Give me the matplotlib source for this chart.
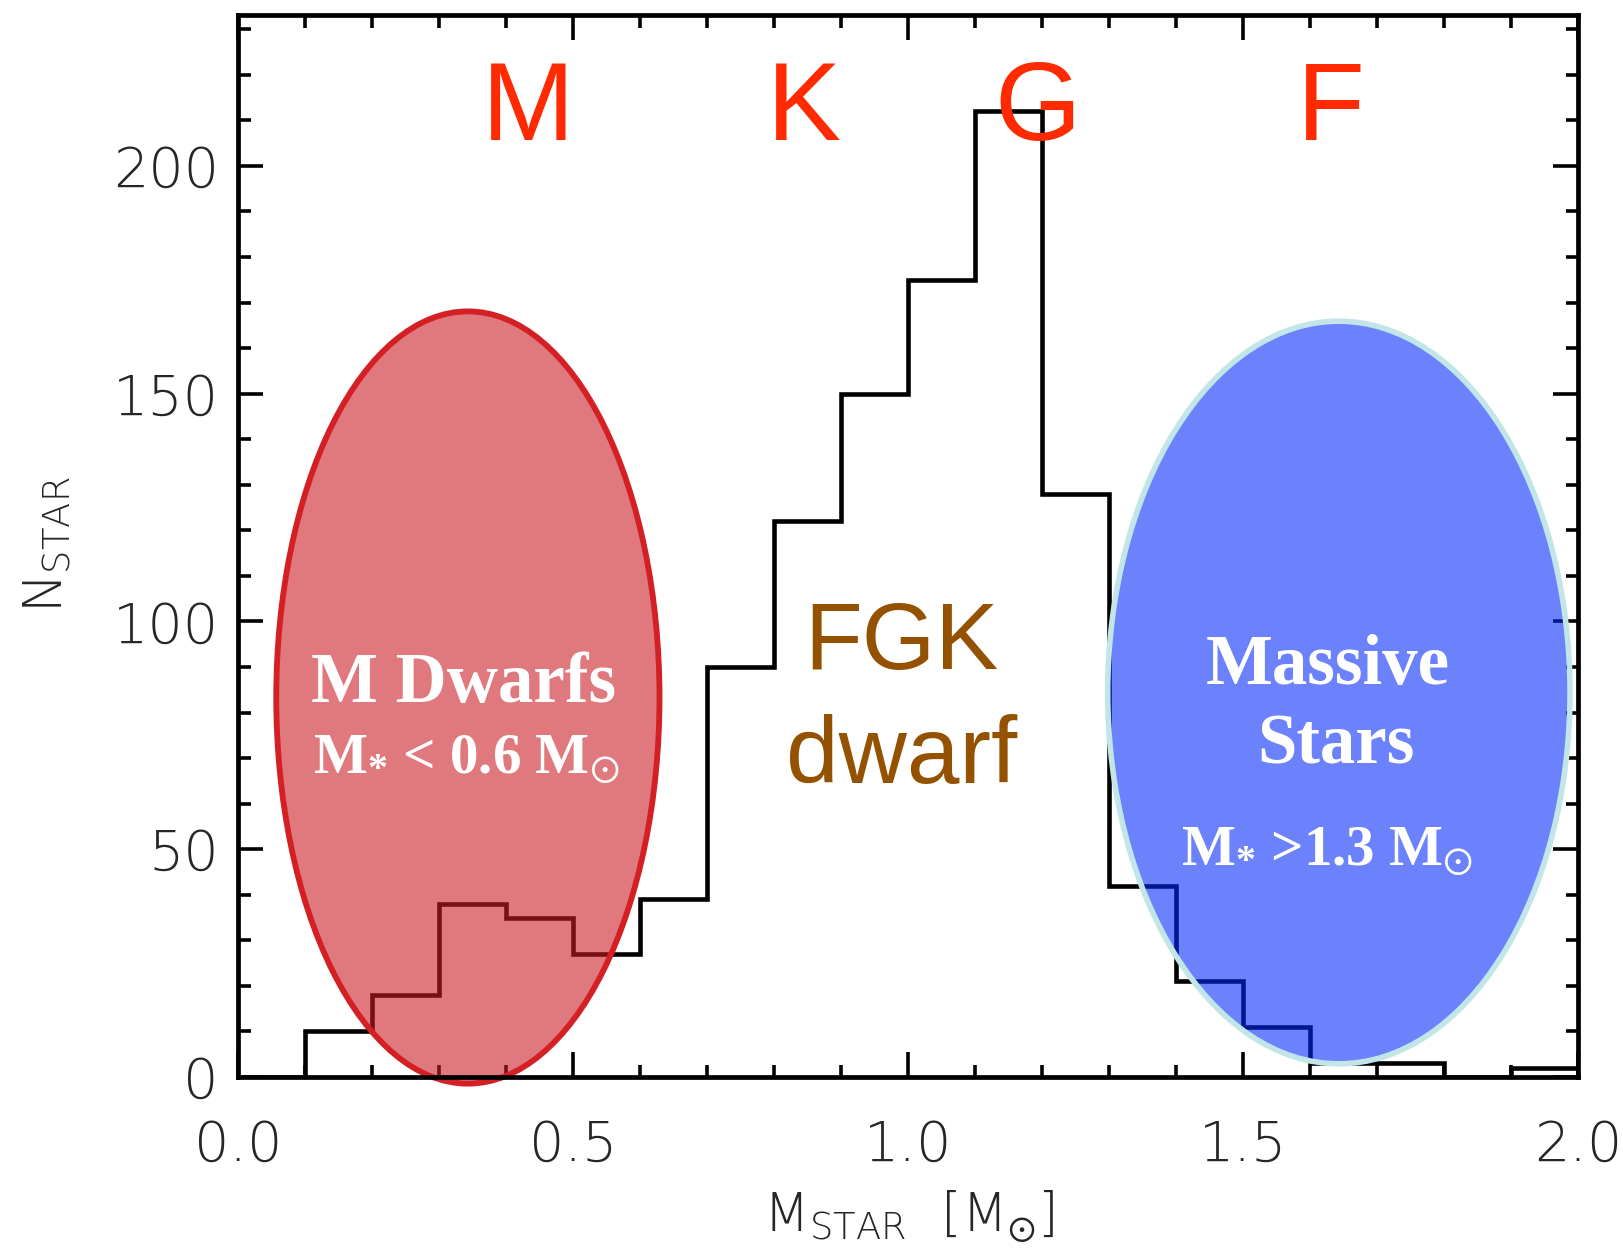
import numpy as np
import matplotlib
matplotlib.use("Agg")
import matplotlib.pyplot as plt
from matplotlib.patches import Ellipse
from matplotlib.ticker import MultipleLocator

plt.rcParams["mathtext.fontset"] = "stix"
plt.rcParams["mathtext.default"] = "regular"

# histogram of stellar masses (bin edges in solar masses, counts per bin)
bin_edges = [0.0, 0.1, 0.2, 0.3, 0.4, 0.5, 0.6, 0.7, 0.8, 0.9, 1.0,
             1.1, 1.2, 1.3, 1.4, 1.5, 1.6, 1.7, 1.8, 1.9, 2.0]
counts = [0, 10, 18, 38, 35, 27, 39, 90, 122, 150, 175,
          212, 128, 42, 21, 11, 3, 3, 0, 2]

# spectral type labels along the top
spec_types = ["M", "K", "G", "F"]
spec_x = [0.433, 0.845, 1.194, 1.631]

# highlighted regions: (center mass, center count, width, height)
mdwarf_region = (0.343, 83.3, 0.572, 169.5)
massive_region = (1.643, 84.4, 0.690, 163.0)

fig = plt.figure(figsize=(16.24, 12.49), dpi=100)
ax = fig.add_axes([0.1466, 0.1377, 0.8251, 0.8499])

ax.stairs(counts, bin_edges, color="black", lw=3.3, zorder=2)

ax.set_xlim(0, 2.0)
ax.set_ylim(0, 233)
ax.xaxis.set_major_locator(MultipleLocator(0.5))
ax.xaxis.set_minor_locator(MultipleLocator(0.1))
ax.yaxis.set_major_locator(MultipleLocator(50))
ax.yaxis.set_minor_locator(MultipleLocator(10))
ax.set_xticks([0.0, 0.5, 1.0, 1.5, 2.0])
ax.set_xticklabels(["0.0", "0.5", "1.0", "1.5", "2.0"])

ax.tick_params(which="both", direction="in", top=True, right=True,
               width=2.6, color="black")
ax.tick_params(which="major", length=18)
ax.tick_params(which="minor", length=9)
ax.tick_params(axis="x", which="major", pad=30)
ax.tick_params(axis="y", which="major", pad=14)
for lab in ax.get_xticklabels() + ax.get_yticklabels():
    lab.set_family("DejaVu Sans")
    lab.set_weight("light")
    lab.set_fontsize(40)
    lab.set_color("#262626")
for sp in ax.spines.values():
    sp.set_linewidth(3.4)
    sp.set_zorder(5)

ax.set_xlabel(r"M$_{STAR}$  [M$_{\odot}$]", fontsize=38, color="#262626",
              family="DejaVu Sans", weight="light")
ax.xaxis.set_label_coords(0.5, -0.105)
ax.set_ylabel(r"N$_{STAR}$", fontsize=38, color="#262626",
              family="DejaVu Sans", weight="light")
ax.yaxis.set_label_coords(-0.122, 0.502)

# shaded regions
cx, cy, w, h = mdwarf_region
ax.add_patch(Ellipse((cx, cy), w, h, facecolor="#cb1b22", alpha=0.59,
                     edgecolor="none", zorder=3, clip_on=False))
ax.add_patch(Ellipse((cx, cy), w, h, facecolor="none", edgecolor="#d42024",
                     lw=4.2, zorder=3.5, clip_on=False))
cx, cy, w, h = massive_region
ax.add_patch(Ellipse((cx, cy), w, h, facecolor="#0028fa", alpha=0.58,
                     edgecolor="none", zorder=3, clip_on=False))
ax.add_patch(Ellipse((cx, cy), w, h, facecolor="none", edgecolor="#c2e5e8",
                     lw=4.0, zorder=3.5, clip_on=False))

for s, x in zip(spec_types, spec_x):
    ax.text(x, 205.6, s, color="#ff2a00", fontsize=80, ha="center",
            va="baseline", family="Liberation Sans", zorder=6)

ax.text(0.99, 89.5, "FGK", color="#945200", fontsize=68, ha="center",
        va="baseline", family="Liberation Sans", zorder=6)
ax.text(0.99, 64.5, "dwarf", color="#945200", fontsize=68, ha="center",
        va="baseline", family="Liberation Sans", zorder=6)

serif = dict(color="white", ha="center", va="baseline",
             family="Liberation Serif", weight="bold", zorder=6)
ax.text(0.337, 82.3, "M Dwarfs", fontsize=51, **serif)
ax.text(0.340, 66.7, r"M$_{*}$ < 0.6 M$_{\odot}$", fontsize=41, **serif)
ax.text(1.626, 86.3, "Massive", fontsize=51, **serif)
ax.text(1.639, 68.9, "Stars", fontsize=51, **serif)
ax.text(1.626, 46.5, r"M$_{*}$ >1.3 M$_{\odot}$", fontsize=41, **serif)

fig.savefig("out.png", dpi=100)
